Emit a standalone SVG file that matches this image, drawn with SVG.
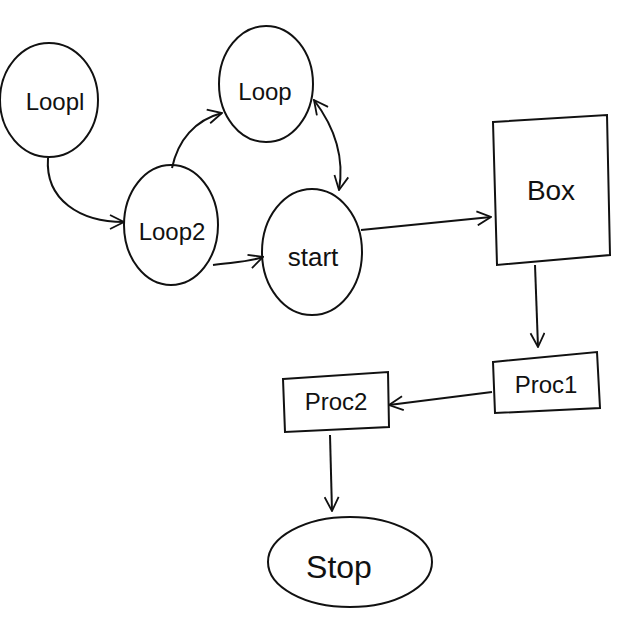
<svg xmlns="http://www.w3.org/2000/svg" width="640" height="640" viewBox="0 0 640 640">
<style>
.n{fill:none;stroke:#111;stroke-width:2}
.t{font-family:"Liberation Sans","DejaVu Sans",sans-serif;font-size:24px;fill:#111;text-anchor:middle}
.c{fill:none;stroke:#111;stroke-width:2}
</style>
<defs>
<marker id="a" viewBox="0 0 16 16" refX="15" refY="8" markerWidth="16" markerHeight="16" markerUnits="userSpaceOnUse" orient="auto-start-reverse">
<path d="M1,1 L15,8 L1,15" fill="none" stroke="#111" stroke-width="1.8"/>
</marker>
</defs>
<rect width="640" height="640" fill="#fff"/>
<g id="loop1"><ellipse class="n" cx="49" cy="100" rx="49" ry="57"/><text class="t" x="55" y="110">Loopl</text></g>
<g id="loop"><ellipse class="n" cx="266" cy="84" rx="47" ry="58"/><text class="t" x="265" y="100">Loop</text></g>
<g id="loop2"><ellipse class="n" cx="171" cy="225" rx="47" ry="60"/><text class="t" x="172" y="240">Loop2</text></g>
<g id="start"><ellipse class="n" cx="312" cy="252" rx="50" ry="63"/><text class="t" x="313" y="266" style="font-size:26px">start</text></g>
<g id="box"><path class="n" d="M493,122 L607,115 L610,255 L497,265 Z"/><text class="t" x="551" y="200" style="font-size:28px">Box</text></g>
<g id="proc1"><path class="n" d="M493,362 L597,352 L600,408 L495,413 Z"/><text class="t" x="546" y="393">Proc1</text></g>
<g id="proc2"><path class="n" d="M283,379 L388,372 L389,427 L285,432 Z"/><text class="t" x="336" y="410">Proc2</text></g>
<g id="stop"><ellipse class="n" cx="350" cy="562" rx="82" ry="45"/><text class="t" x="339" y="578" style="font-size:32px">Stop</text></g>
<g id="connectors">
<path class="c" marker-end="url(#a)" d="M48,158 C45,200 80,222 124,222"/>
<path class="c" marker-end="url(#a)" d="M172,168 C178,140 195,120 222,113"/>
<path class="c" marker-end="url(#a)" d="M213,265 C235,262 248,262 263,257"/>
<path class="c" marker-start="url(#a)" marker-end="url(#a)" d="M314,100 C333,125 345,155 339,190"/>
<path class="c" marker-end="url(#a)" d="M361,230 L491,217"/>
<path class="c" marker-end="url(#a)" d="M535,265 L538,347"/>
<path class="c" marker-end="url(#a)" d="M492,392 L389,405"/>
<path class="c" marker-end="url(#a)" d="M330,435 L332,511"/>
</g>
</svg>
